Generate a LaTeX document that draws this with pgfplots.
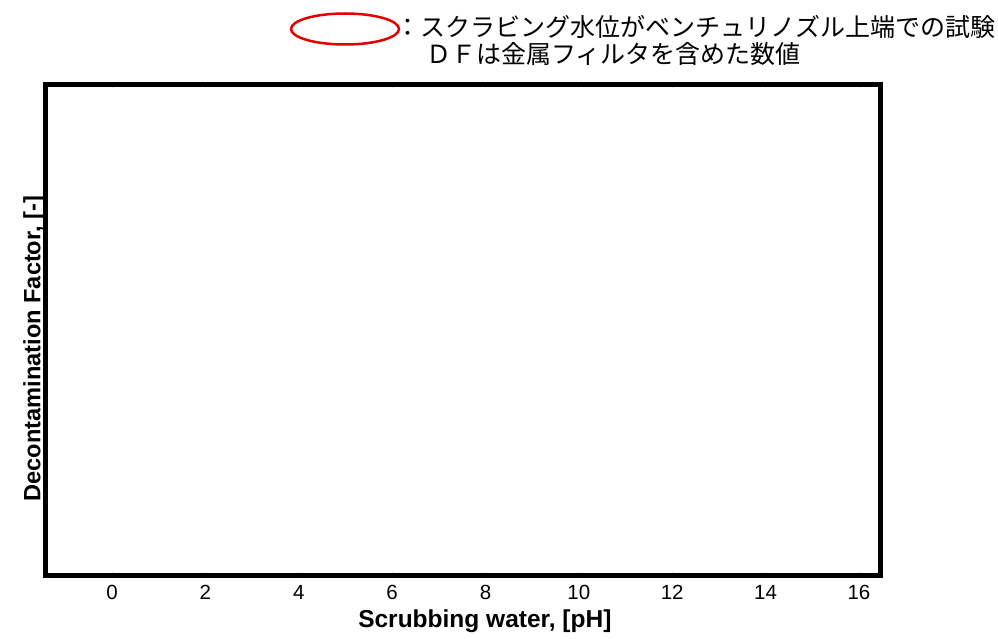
\documentclass[border=0pt]{standalone}
\usepackage{fontspec}
\setmainfont{Liberation Sans}
\newfontfamily\jp{Noto Sans CJK JP}
\usepackage{pgfplots}
\pgfplotsset{compat=1.18}
\begin{document}
\begin{tikzpicture}[x=1pt,y=1pt]
\path[use as bounding box] (-45.5,-62.5) rectangle (952.5,575.5);
\begin{axis}[
  at={(0,0)}, anchor=south west,
  scale only axis, width=834.5pt, height=491pt,
  xmin=-1.424, xmax=16.45, ymin=0, ymax=1,
  xtick={0,2,...,16}, ytick=\empty,
  /pgf/number format/assume math mode=true,
  axis line style={line width=5pt, line join=miter},
  major tick length=4pt,
  tick style={gray!25, line width=0.8pt},
  xticklabel style={font=\fontsize{20.5}{24}\selectfont, yshift=-6pt},
  xlabel={Scrubbing water, [pH]},
  xlabel style={font=\bfseries\fontsize{24.5}{28}\selectfont, at={(rel axis cs:0.5265,0)}, anchor=center, yshift=-46pt},
  ylabel={Decontamination Factor, [-]},
  ylabel style={font=\bfseries\fontsize{23.6}{28}\selectfont, at={(rel axis cs:0,0.472)}, anchor=south, rotate=0, inner sep=0pt, xshift=-5pt},
]
\addplot[draw=none] coordinates {(0,0)};
\end{axis}
\draw[red!90!black, line width=2.5pt] (299.5,546.5) ellipse [x radius=54, y radius=15.5];
\node[anchor=west, inner sep=0pt, font=\jp\fontsize{25}{28}\selectfont] at (349.5,549) {：スクラビング水位がベンチュリノズル上端での試験};
\node[anchor=west, inner sep=0pt, font=\jp\fontsize{25}{28}\selectfont] at (380.5,521.5) {ＤＦは金属フィルタを含めた数値};
\end{tikzpicture}
\end{document}
